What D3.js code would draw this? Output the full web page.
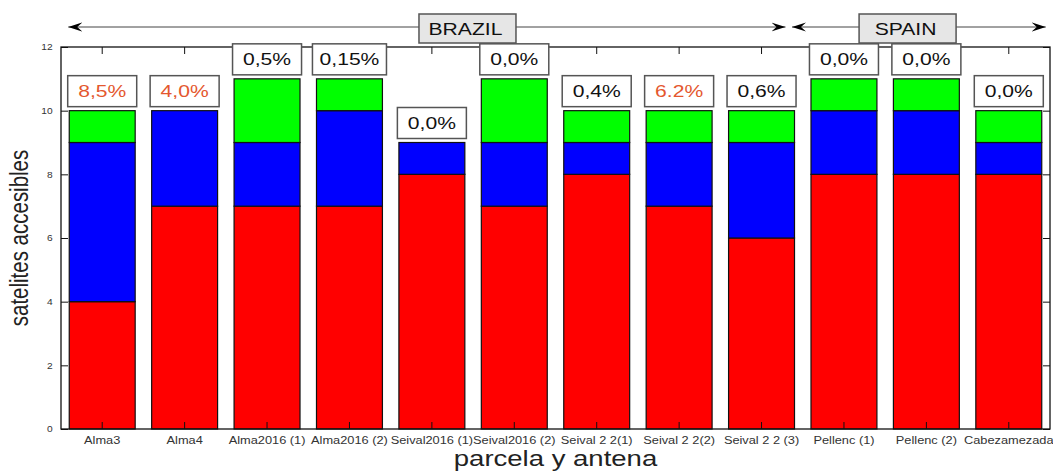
<!DOCTYPE html>
<html>
<head>
<meta charset="utf-8">
<script src="https://cdn.jsdelivr.net/npm/d3@7"></script>
<style>
  body { margin: 0; background: #fff; }
  text { font-family: "Liberation Sans", Arial, sans-serif; }
</style>
</head>
<body>
<svg id="chart" width="1053" height="471"></svg>
<script>
// categories and stacked values (satellites) per antenna
var categories = ["Alma3", "Alma4", "Alma2016 (1)", "Alma2016 (2)", "Seival2016 (1)", "Seival2016 (2)",
                  "Seival 2 2(1)", "Seival 2 2(2)", "Seival 2 2 (3)", "Pellenc (1)", "Pellenc (2)", "Cabezamezada"];
var redVals   = [4, 7, 7, 7, 8, 7, 8, 7, 6, 8, 8, 8];
var blueVals  = [5, 3, 2, 3, 1, 2, 1, 2, 3, 2, 2, 1];
var greenVals = [1, 0, 2, 1, 0, 2, 1, 1, 1, 1, 1, 1];
var pctLabels = ["8,5%", "4,0%", "0,5%", "0,15%", "0,0%", "0,0%", "0,4%", "6.2%", "0,6%", "0,0%", "0,0%", "0,0%"];
var pctWarn   = [true, true, false, false, false, false, false, true, false, false, false, false];
var yTicks = [0, 2, 4, 6, 8, 10, 12];
var groupNames = ["BRAZIL", "SPAIN"];
var groupFirst = ["Alma3", "Pellenc (1)"];
var groupLast  = ["Seival 2 2 (3)", "Cabezamezada"];

var SX = 1.28; // horizontal text stretch seen in the picture
var svg = d3.select("#chart");
var margin = {top: 47, right: 1050, bottom: 429, left: 61};
var width = margin.right - margin.left,
    height = margin.bottom - margin.top;

var g = svg.append("g").attr("transform", `translate(${margin.left},${margin.top})`);

var x = d3.scaleBand().domain(categories).range([0, width]).paddingInner(0.2).paddingOuter(0.1);
var y = d3.scaleLinear().domain([0, 12]).range([height, 0]);

// build stack rows
var rows = categories.map(function (c, i) {
    return {name: c, red: redVals[i], blue: blueVals[i], green: greenVals[i]};
});
var stack = d3.stack().keys(["red", "blue", "green"])(rows);
var colors = {red: "#ff0000", blue: "#0000ff", green: "#00ff00"};

g.selectAll(".layer")
    .data(stack)
    .enter().append("g")
    .attr("class", "layer")
    .attr("fill", d => colors[d.key])
    .selectAll("rect")
    .data(d => d.filter(e => e[1] > e[0]))
    .enter().append("rect")
    .attr("x", d => x(d.data.name))
    .attr("y", d => y(d[1]))
    .attr("width", x.bandwidth())
    .attr("height", d => y(d[0]) - y(d[1]))
    .attr("stroke", "#111")
    .attr("stroke-width", 1.2);

// axes with inward ticks
var xb = g.append("g").attr("transform", `translate(0,${height})`)
    .call(d3.axisBottom(x).tickSize(-7).tickPadding(8));
xb.selectAll("text").attr("transform", `scale(${SX},1)`)
    .style("font-size", "10px").attr("fill", "#333");
g.append("g").call(d3.axisTop(x).tickSize(-7).tickFormat(""));
var yl = g.append("g").call(d3.axisLeft(y).tickValues(yTicks).tickSize(-7).tickPadding(7));
yl.selectAll("text").attr("transform", `scale(1.2,1)`)
    .style("font-size", "8.5px").attr("fill", "#333");
g.append("g").attr("transform", `translate(${width},0)`)
    .call(d3.axisRight(y).tickValues(yTicks).tickSize(-7).tickFormat(""));
g.selectAll(".domain").remove();
g.selectAll(".tick line").attr("stroke", "#111");

g.append("rect")
    .attr("width", width).attr("height", height)
    .attr("fill", "none").attr("stroke", "#111").attr("stroke-width", 1.3);

// percentage boxes above bars
var pg = g.selectAll(".pct")
    .data(rows)
    .enter().append("g")
    .attr("class", "pct");
pg.each(function (d, i) {
    var cx = x(d.name) + x.bandwidth() / 2;
    var top = y(d.red + d.blue + d.green) - 4;
    var box = d3.select(this).append("rect");
    var t = d3.select(this).append("text")
        .attr("text-anchor", "middle")
        .attr("transform", `translate(${cx},${top - 10}) scale(${SX},1)`)
        .style("font-size", "16.5px")
        .attr("fill", pctWarn[i] ? "#e4572e" : "#111")
        .text(pctLabels[i]);
    var tw = t.node().getBBox().width * SX;
    var bw = Math.max(69, tw + 14);
    box.attr("x", cx - bw / 2).attr("y", top - 31)
        .attr("width", bw).attr("height", 31)
        .attr("fill", "#fff").attr("stroke", "#555").attr("stroke-width", 1.5);
});

// country arrows
var defs = svg.append("defs");
defs.append("marker").attr("id", "ah").attr("viewBox", "-14 -5 15 10")
    .attr("refX", 0).attr("refY", 0).attr("markerWidth", 15).attr("markerHeight", 10)
    .attr("markerUnits", "userSpaceOnUse").attr("orient", "auto-start-reverse")
    .append("path").attr("d", "M0,0 L-14,-4.5 L-9,0 L-14,4.5 Z").attr("fill", "#000");

var arrowY = 27 - margin.top;
var boxCenter = [0.411, 0.856];
groupNames.forEach(function (name, i) {
    var x0 = x(groupFirst[i]) - (i == 0 ? 1 : 19);
    var x1 = x(groupLast[i]) + x.bandwidth() + (i == 0 ? -9 : 4);
    g.append("line")
        .attr("x1", x0).attr("x2", x1).attr("y1", arrowY).attr("y2", arrowY)
        .attr("stroke", "#444").attr("stroke-width", 1)
        .attr("marker-start", "url(#ah)").attr("marker-end", "url(#ah)");
    var cx = width * boxCenter[i];
    g.append("rect")
        .attr("x", cx - 48.5).attr("y", 14 - margin.top)
        .attr("width", 97).attr("height", 29)
        .attr("fill", "#e6e6e6").attr("stroke", "#555").attr("stroke-width", 1.5);
    g.append("text")
        .attr("text-anchor", "middle")
        .attr("transform", `translate(${cx - 2},${35 - margin.top}) scale(${SX},1)`)
        .style("font-size", "16.5px").attr("fill", "#111")
        .text(name);
});

// axis titles
svg.append("text")
    .attr("text-anchor", "middle")
    .attr("transform", `translate(${(margin.left + margin.right) / 2},${466}) scale(${SX},1)`)
    .style("font-size", "21.5px").attr("fill", "#222")
    .text("parcela y antena");
svg.append("text")
    .attr("text-anchor", "middle")
    .attr("transform", `translate(28,${(margin.top + margin.bottom) / 2}) scale(${SX},1) rotate(-90)`)
    .style("font-size", "20.5px").attr("fill", "#222")
    .text("satelites accesibles");
</script>
</body>
</html>
